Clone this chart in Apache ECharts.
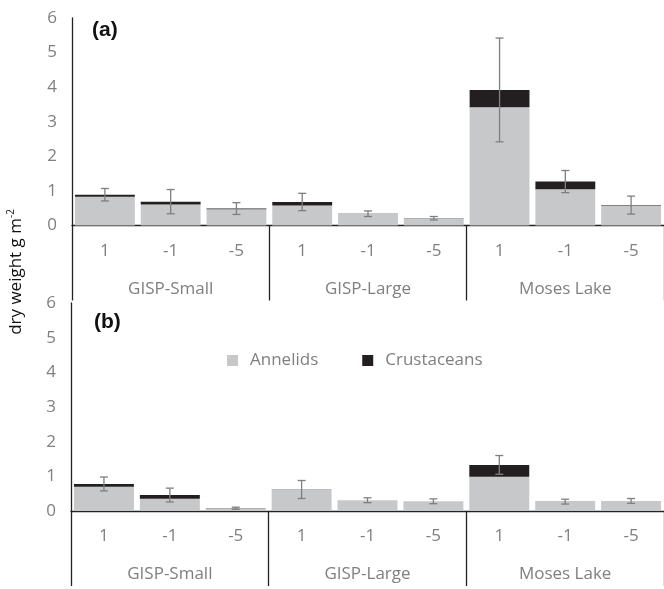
<!DOCTYPE html>
<html>
<head>
<meta charset="utf-8">
<script src="https://cdn.jsdelivr.net/npm/echarts@6/dist/echarts.min.js"></script>
<style>
html, body { margin: 0; padding: 0; background: #fff; }
#chart { width: 664px; height: 589px; }
</style>
</head>
<body>
<div id="chart"></div>
<script>
var groups = ['GISP-Small', 'GISP-Large', 'Moses Lake'];
var depths = ['1', '-1', '-5', '1', '-1', '-5', '1', '-1', '-5'];

// panel (a)
var annelidsA = [0.83, 0.61, 0.47, 0.58, 0.33, 0.20, 3.42, 1.05, 0.58];
var crustA = [0.06, 0.08, 0.02, 0.10, 0.01, 0.01, 0.50, 0.22, 0.01];
var errA = [0.18, 0.35, 0.17, 0.25, 0.08, 0.05, 1.50, 0.32, 0.26];

// panel (b)
var annelidsB = [0.70, 0.35, 0.07, 0.61, 0.31, 0.28, 0.99, 0.26, 0.29];
var crustB = [0.08, 0.11, 0.01, 0.01, 0.00, 0.00, 0.34, 0.01, 0.00];
var errB = [0.20, 0.20, 0.03, 0.26, 0.07, 0.07, 0.27, 0.07, 0.07];

var grey = '#7f7f7f';
var font = '"Open Sans", sans-serif';
var fs = 17;

function errData(ann, cru, err) {
    return ann.map(function (v, i) {
        var t = v + cru[i];
        return [i, t - err[i], t + err[i]];
    });
}

function renderErr(params, api) {
    var lo = api.coord([api.value(0), api.value(1)]);
    var hi = api.coord([api.value(0), api.value(2)]);
    var cap = 4;
    var st = { stroke: grey, lineWidth: 1.3 };
    return {
        type: 'group',
        children: [
            { type: 'line', shape: { x1: lo[0], y1: lo[1], x2: hi[0], y2: hi[1] }, style: st },
            { type: 'line', shape: { x1: lo[0] - cap, y1: lo[1], x2: lo[0] + cap, y2: lo[1] }, style: st },
            { type: 'line', shape: { x1: hi[0] - cap, y1: hi[1], x2: hi[0] + cap, y2: hi[1] }, style: st }
        ]
    };
}

function xAxes(gi) {
    return [{
        type: 'category',
        gridIndex: gi,
        data: depths,
        axisLine: { show: true, lineStyle: { color: '#222', width: 1.3 } },
        axisTick: {
            show: true,
            length: 75,
            interval: function (i) { return i % 3 === 0; },
            lineStyle: { color: '#222', width: 1.3 }
        },
        axisLabel: { color: grey, fontSize: fs, fontFamily: font, margin: 17, interval: 0 },
        splitLine: { show: false }
    }, {
        type: 'category',
        gridIndex: gi,
        position: 'bottom',
        data: groups,
        axisLine: { show: false },
        axisTick: { show: false },
        axisLabel: { color: grey, fontSize: fs, fontFamily: font, margin: 55, interval: 0 },
        splitLine: { show: false }
    }];
}

function yAxis(gi) {
    return {
        type: 'value',
        gridIndex: gi,
        min: 0,
        max: 6,
        interval: 1,
        axisLine: { show: true, lineStyle: { color: '#222', width: 1.3 } },
        axisTick: { show: false },
        splitLine: { show: false },
        axisLabel: { color: grey, fontSize: fs, fontFamily: font, margin: 15 }
    };
}

function barSeries(name, data, color, xi, yi, stack) {
    return {
        name: name,
        type: 'bar',
        stack: stack,
        xAxisIndex: xi,
        yAxisIndex: yi,
        data: data,
        barCategoryGap: '9%',
        itemStyle: { color: color },
        emphasis: { disabled: true }
    };
}

var myChart = echarts.init(document.getElementById('chart'));
var option = {
    animation: false,
    legend: {
        data: ['Annelids', 'Crustaceans'],
        top: 347,
        left: 222,
        icon: 'rect',
        itemWidth: 11,
        itemHeight: 11,
        itemGap: 44,
        textStyle: { color: grey, fontSize: fs, fontFamily: font, padding: [0, 0, 0, 7] }
    },
    grid: [
        { left: 72, top: 18, width: 594, height: 207.5 },
        { left: 71, top: 303, width: 594, height: 208 }
    ],
    xAxis: xAxes(0).concat(xAxes(1)),
    yAxis: [yAxis(0), yAxis(1)],
    series: [
        barSeries('Annelids', annelidsA, '#c7c8ca', 0, 0, 'a'),
        barSeries('Crustaceans', crustA, '#231f20', 0, 0, 'a'),
        {
            type: 'custom',
            xAxisIndex: 0,
            yAxisIndex: 0,
            renderItem: renderErr,
            data: errData(annelidsA, crustA, errA),
            z: 10
        },
        barSeries('Annelids', annelidsB, '#c7c8ca', 2, 1, 'b'),
        barSeries('Crustaceans', crustB, '#231f20', 2, 1, 'b'),
        {
            type: 'custom',
            xAxisIndex: 2,
            yAxisIndex: 1,
            renderItem: renderErr,
            data: errData(annelidsB, crustB, errB),
            z: 10
        }
    ],
    graphic: [
        {
            type: 'text',
            left: 92,
            top: 20,
            style: { text: '(a)', fill: '#111', font: 'bold 21px "Liberation Sans", Arial, sans-serif' }
        },
        {
            type: 'text',
            left: 94,
            top: 312,
            style: { text: '(b)', fill: '#111', font: 'bold 21px "Liberation Sans", Arial, sans-serif' }
        },
        {
            type: 'text',
            x: 16,
            y: 272,
            rotation: Math.PI / 2,
            style: {
                text: 'dry weight g m{s|-2}',
                fill: '#111',
                font: '17px "Open Sans", sans-serif',
                align: 'center',
                verticalAlign: 'middle',
                rich: { s: { fontSize: 10, fontFamily: font, fill: '#111', verticalAlign: 'top', padding: [0, 0, 9, 0] } }
            }
        }
    ]
};
myChart.setOption(option);
window.addEventListener('resize', function () {
    myChart.resize();
});
</script>
</body>
</html>
